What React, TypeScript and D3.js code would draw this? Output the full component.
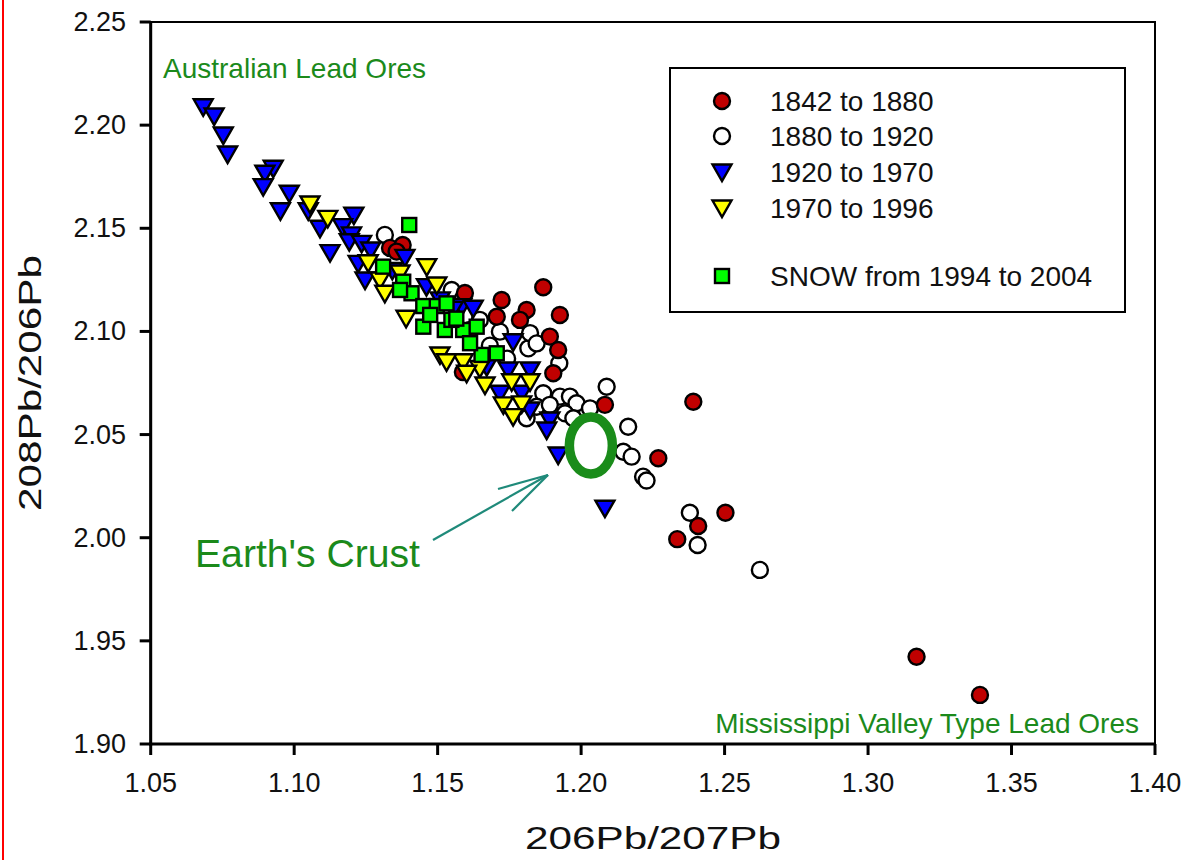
import React from "react";
import * as d3 from "d3";

// ---- data (206Pb/207Pb, 208Pb/206Pb) ----
const red1842: [number, number][] = [
  [1.1334, 2.1405], [1.1378, 2.1419], [1.1357, 2.1387], [1.1723, 2.1152], [1.1868, 2.1214],
  [1.181, 2.1104], [1.1787, 2.1056], [1.1926, 2.108], [1.1706, 2.1071], [1.1891, 2.0975],
  [1.192, 2.091], [1.1903, 2.0797], [1.2083, 2.0644], [1.2269, 2.0385], [1.2391, 2.0659],
  [1.2503, 2.0121], [1.2408, 2.0057], [1.2335, 1.9993], [1.3169, 1.9423], [1.339, 1.9238],
  [1.1595, 2.1186], [1.1613, 2.1007], [1.1588, 2.0803],
];
const white1880: [number, number][] = [
  [1.1316, 2.1468], [1.1717, 2.0999], [1.1816, 2.0918], [1.1924, 2.0846], [1.1868, 2.07],
  [1.1926, 2.0684], [1.1961, 2.0684], [1.1984, 2.0652], [1.2031, 2.0627], [1.1845, 2.0635],
  [1.1891, 2.0644], [1.181, 2.0579], [1.2089, 2.0732], [1.1944, 2.0603], [1.1973, 2.0579],
  [1.2164, 2.0538], [1.2147, 2.0417], [1.2176, 2.0393], [1.2216, 2.0296], [1.2228, 2.0277],
  [1.2379, 2.0121], [1.2406, 1.9965], [1.2623, 1.9844], [1.1549, 2.1201], [1.1589, 2.1161],
  [1.1647, 2.1056], [1.1822, 2.0992], [1.1845, 2.0942], [1.1682, 2.0931], [1.1742, 2.0868],
];
const blue1920: [number, number][] = [
  [1.0683, 2.2089], [1.0721, 2.2044], [1.0753, 2.1952], [1.0768, 2.186], [1.0927, 2.1791],
  [1.0898, 2.1767], [1.0892, 2.1702], [1.0983, 2.167], [1.0952, 2.1585], [1.1049, 2.1585],
  [1.109, 2.15], [1.1208, 2.1564], [1.1169, 2.1508], [1.12, 2.1468], [1.1192, 2.1435],
  [1.1235, 2.1427], [1.1125, 2.1382], [1.1267, 2.1395], [1.1223, 2.133], [1.1386, 2.1359],
  [1.1247, 2.1249], [1.1584, 2.112], [1.1624, 2.1112], [1.1763, 2.095], [1.1822, 2.0813],
  [1.1746, 2.0813], [1.1717, 2.07], [1.1793, 2.07], [1.1822, 2.0619], [1.1891, 2.0571],
  [1.188, 2.0522], [1.192, 2.0401], [1.2083, 2.0143], [1.1509, 2.1153], [1.1554, 2.1107],
  [1.1461, 2.1217], [1.1671, 2.0829], [1.1342, 2.1296],
];
const yellow1970: [number, number][] = [
  [1.1055, 2.1618], [1.1117, 2.1548], [1.1258, 2.1333], [1.1299, 2.1249], [1.1462, 2.1314],
  [1.1316, 2.1185], [1.1497, 2.1225], [1.139, 2.1064], [1.1508, 2.0886], [1.1589, 2.0853],
  [1.1647, 2.0821], [1.1665, 2.074], [1.1758, 2.0756], [1.1822, 2.0756], [1.1729, 2.0644],
  [1.1793, 2.0649], [1.1763, 2.0587], [1.1369, 2.1283], [1.1531, 2.0853], [1.1601, 2.0797],
];
const greenSnow: [number, number][] = [
  [1.1401, 2.1516], [1.131, 2.1314], [1.138, 2.1241], [1.1409, 2.1185], [1.145, 2.1123],
  [1.1497, 2.1123], [1.1531, 2.1136], [1.145, 2.1023], [1.1525, 2.1007], [1.1589, 2.1007],
  [1.1636, 2.1023], [1.1653, 2.0886], [1.1706, 2.0894], [1.1613, 2.0943], [1.1369, 2.1201],
  [1.1548, 2.1056], [1.1474, 2.108], [1.1565, 2.1062],
];
const crust: [number, number] = [1.2034, 2.0447];

const xDomain: [number, number] = [1.05, 1.4];
const yDomain: [number, number] = [1.9, 2.25];
const xTickValues = [1.05, 1.1, 1.15, 1.2, 1.25, 1.3, 1.35, 1.4];
const yTickValues = [1.9, 1.95, 2.0, 2.05, 2.1, 2.15, 2.2, 2.25];

const legendLabels = ["1842 to 1880", "1880 to 1920", "1920 to 1970", "1970 to 1996", "SNOW from 1994 to 2004"];

const FONT = "'Liberation Sans', Arial, Helvetica, sans-serif";
const TEXT_GREEN = "#1b8a1b";

const W = 1186, H = 860;
const L = 150.7, R = 1155, T = 22, B = 744;

const x = d3.scaleLinear().domain(xDomain).range([L, R]);
const y = d3.scaleLinear().domain(yDomain).range([B, T]);
const fmt = d3.format(".2f");

const triPath = "M-9.5,-7.5L9.5,-7.5L0,9Z";

type Kind = "red" | "white" | "blue" | "yellow" | "green";
function Marker({ kind, cx, cy }: { kind: Kind; cx: number; cy: number }) {
  const stroke = "#000";
  if (kind === "red" || kind === "white") {
    return <circle cx={cx} cy={cy} r={8} fill={kind === "red" ? "#c00000" : "#ffffff"} stroke={stroke} strokeWidth={2.4} />;
  }
  if (kind === "blue" || kind === "yellow") {
    return <path d={triPath} transform={`translate(${cx},${cy})`} fill={kind === "blue" ? "#0000ff" : "#ffff00"} stroke={stroke} strokeWidth={2.4} strokeLinejoin="miter" />;
  }
  return <rect x={cx - 7} y={cy - 7} width={14} height={14} fill="#00ff00" stroke={stroke} strokeWidth={2.4} />;
}

const series: { kind: Kind; data: [number, number][] }[] = [
  { kind: "white", data: white1880 },
  { kind: "red", data: red1842 },
  { kind: "blue", data: blue1920 },
  { kind: "yellow", data: yellow1970 },
  { kind: "green", data: greenSnow },
];
const legendKinds: Kind[] = ["red", "white", "blue", "yellow", "green"];
const legendY = [101, 136, 172, 208, 276];

export default function App() {
  return (
    <svg width={W} height={H} style={{ position: "absolute", left: 0, top: 0, background: "#fff" }} fontFamily={FONT}>
      <rect x={0} y={0} width={W} height={H} fill="#fff" />
      <line x1={3} y1={0} x2={3} y2={H} stroke="#ff0000" strokeWidth={2} />

      {/* frame */}
      <rect x={L} y={T} width={R - L} height={B - T} fill="none" stroke="#000" strokeWidth={2} />
      <line x1={L} y1={T} x2={L} y2={B + 1.5} stroke="#000" strokeWidth={3} />
      <line x1={L - 1.5} y1={B} x2={R} y2={B} stroke="#000" strokeWidth={3} />

      {/* y ticks */}
      {yTickValues.map((v) => (
        <g key={"y" + v}>
          <line x1={L - 11} x2={L} y1={y(v)} y2={y(v)} stroke="#000" strokeWidth={3} />
          <text x={126} y={y(v)} textAnchor="end" dominantBaseline="central" fontSize={27} fill="#111">{fmt(v)}</text>
        </g>
      ))}
      {/* x ticks */}
      {xTickValues.map((v) => (
        <g key={"x" + v}>
          <line x1={x(v)} x2={x(v)} y1={B} y2={B + 11} stroke="#000" strokeWidth={3} />
          <text x={x(v)} y={783} textAnchor="middle" dominantBaseline="central" fontSize={27} fill="#111">{fmt(v)}</text>
        </g>
      ))}

      {/* axis titles */}
      <text x={653} y={838} textAnchor="middle" dominantBaseline="central" fontSize={32} textLength={256} lengthAdjust="spacingAndGlyphs" fill="#111">206Pb/207Pb</text>
      <text transform="translate(30,383) rotate(-90)" textAnchor="middle" dominantBaseline="central" fontSize={32} textLength={256} lengthAdjust="spacingAndGlyphs" fill="#111">208Pb/206Pb</text>

      {/* points */}
      {series.map((s) => (
        <g key={s.kind}>
          {s.data.map((d, i) => (
            <Marker key={i} kind={s.kind} cx={x(d[0])} cy={y(d[1])} />
          ))}
        </g>
      ))}

      {/* Earth's crust ellipse */}
      <ellipse cx={x(crust[0])} cy={y(crust[1])} rx={21.5} ry={28.5} fill="none" stroke="#1a8c1a" strokeWidth={9.5} />

      {/* arrow */}
      <g stroke="#1f8a7a" strokeWidth={2.2} fill="none">
        <line x1={433} y1={540} x2={548} y2={475} />
        <line x1={548} y1={475} x2={498} y2={489} />
        <line x1={548} y1={475} x2={512} y2={511} />
      </g>

      {/* annotations */}
      <text x={163} y={68} dominantBaseline="central" fontSize={28} fill={TEXT_GREEN}>Australian Lead Ores</text>
      <text x={1139} y={723} textAnchor="end" dominantBaseline="central" fontSize={28} fill={TEXT_GREEN}>Mississippi Valley Type Lead Ores</text>
      <text x={195} y={567} fontSize={38} textLength={225} lengthAdjust="spacingAndGlyphs" fill={TEXT_GREEN}>Earth's Crust</text>

      {/* legend */}
      <rect x={670} y={68} width={455} height={244} fill="#fff" stroke="#000" strokeWidth={2} />
      {legendLabels.map((lab, i) => (
        <g key={lab}>
          <Marker kind={legendKinds[i]} cx={722} cy={legendY[i]} />
          <text x={770} y={legendY[i]} dominantBaseline="central" fontSize={28} fill="#111">{lab}</text>
        </g>
      ))}
    </svg>
  );
}
